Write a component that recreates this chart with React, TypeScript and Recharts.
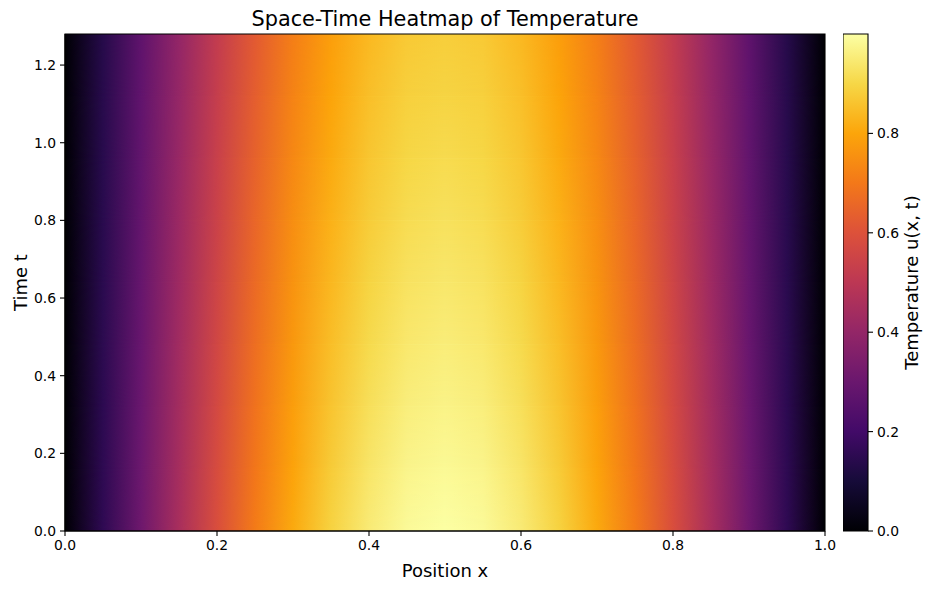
import React from 'react';
import { ComposedChart, XAxis, YAxis, ReferenceArea, Scatter } from 'recharts';

// ---- data ----
const positions = [0, 0.05, 0.1, 0.15, 0.2, 0.25, 0.3, 0.35, 0.4, 0.45, 0.5, 0.55, 0.6, 0.65, 0.7, 0.75, 0.8, 0.85, 0.9, 0.95, 1.0];
const times = [0, 0.16, 0.32, 0.48, 0.64, 0.8, 0.96, 1.12, 1.28];
// temperature u(x, t): one row per time, one column per position
const uGrid = [
  [0, 0.156, 0.309, 0.454, 0.588, 0.707, 0.809, 0.891, 0.951, 0.988, 1.0, 0.988, 0.951, 0.891, 0.809, 0.707, 0.588, 0.454, 0.309, 0.156, 0],
  [0, 0.154, 0.304, 0.447, 0.579, 0.696, 0.796, 0.877, 0.936, 0.973, 0.984, 0.973, 0.936, 0.877, 0.796, 0.696, 0.579, 0.447, 0.304, 0.154, 0],
  [0, 0.151, 0.299, 0.440, 0.570, 0.685, 0.784, 0.863, 0.921, 0.957, 0.969, 0.957, 0.921, 0.863, 0.784, 0.685, 0.570, 0.440, 0.299, 0.151, 0],
  [0, 0.149, 0.295, 0.433, 0.561, 0.674, 0.772, 0.850, 0.907, 0.942, 0.954, 0.942, 0.907, 0.850, 0.772, 0.674, 0.561, 0.433, 0.295, 0.149, 0],
  [0, 0.146, 0.290, 0.426, 0.552, 0.664, 0.759, 0.836, 0.893, 0.928, 0.939, 0.928, 0.893, 0.836, 0.759, 0.664, 0.552, 0.426, 0.290, 0.146, 0],
  [0, 0.144, 0.286, 0.420, 0.543, 0.653, 0.748, 0.823, 0.879, 0.913, 0.924, 0.913, 0.879, 0.823, 0.748, 0.653, 0.543, 0.420, 0.286, 0.144, 0],
  [0, 0.142, 0.281, 0.413, 0.535, 0.643, 0.736, 0.810, 0.865, 0.899, 0.910, 0.899, 0.865, 0.810, 0.736, 0.643, 0.535, 0.413, 0.281, 0.142, 0],
  [0, 0.140, 0.277, 0.406, 0.526, 0.633, 0.724, 0.798, 0.851, 0.885, 0.895, 0.885, 0.851, 0.798, 0.724, 0.633, 0.526, 0.406, 0.277, 0.140, 0],
  [0, 0.137, 0.272, 0.400, 0.518, 0.623, 0.713, 0.785, 0.838, 0.871, 0.881, 0.871, 0.838, 0.785, 0.713, 0.623, 0.518, 0.400, 0.272, 0.137, 0],
];
const xTicks = [0, 0.2, 0.4, 0.6, 0.8, 1.0];
const tTicks = [0, 0.2, 0.4, 0.6, 0.8, 1.0, 1.2];
const cbTicks = [0, 0.2, 0.4, 0.6, 0.8];
const X_DOMAIN: [number, number] = [0, 1];
const T_DOMAIN: [number, number] = [0, 1.28];
const U_DOMAIN: [number, number] = [0, 1.0];

// grid samples as points (used to give the axes their data extent)
const gridPoints = uGrid.flatMap((row, j) => row.map((u, i) => ({ x: positions[i], t: times[j], u })));

// ---- colour map (inferno anchors) ----
const INFERNO = ['#000004', '#160b39', '#420a68', '#6a176e', '#932667', '#bc3754', '#dd513a', '#f37819', '#fca50a', '#f6d746', '#fcffa4'];
const hexRgb = (h: string) => [1, 3, 5].map((i) => parseInt(h.slice(i, i + 2), 16));
function inferno(v: number): string {
  const t = Math.min(1, Math.max(0, (v - U_DOMAIN[0]) / (U_DOMAIN[1] - U_DOMAIN[0]))) * 10;
  const i = Math.min(9, Math.floor(t));
  const f = t - i;
  const a = hexRgb(INFERNO[i]);
  const b = hexRgb(INFERNO[i + 1]);
  const c = a.map((av, k) => Math.round(av + (b[k] - av) * f));
  return `rgb(${c[0]},${c[1]},${c[2]})`;
}

const FONT = '"DejaVu Sans", sans-serif';
const tickStyle = { fill: '#000', fontSize: 13.9, fontFamily: FONT };
const fmt = (v: number) => v.toFixed(1);
const Invisible = () => <g />;

function Defs() {
  return (
    <svg width={0} height={0} style={{ position: 'absolute' }}>
      <defs>
        {uGrid.map((row, j) => (
          <linearGradient key={j} id={`row${j}`} x1="0" y1="0" x2="1" y2="0">
            {row.map((v, i) => (
              <stop key={i} offset={(positions[i] - X_DOMAIN[0]) / (X_DOMAIN[1] - X_DOMAIN[0])} stopColor={inferno(v)} />
            ))}
          </linearGradient>
        ))}
        <linearGradient id="fadeGrad" x1="0" y1="1" x2="0" y2="0">
          <stop offset="0" stopColor="#000" />
          <stop offset="1" stopColor="#fff" />
        </linearGradient>
        <mask id="fadeUp" maskContentUnits="objectBoundingBox">
          <rect x="0" y="0" width="1" height="1" fill="url(#fadeGrad)" />
        </mask>
        <linearGradient id="cbGrad" x1="0" y1="1" x2="0" y2="0">
          {INFERNO.map((c, i) => (
            <stop key={i} offset={i / 10} stopColor={c} />
          ))}
        </linearGradient>
      </defs>
    </svg>
  );
}

function bands() {
  const out: React.ReactNode[] = [];
  for (let j = 0; j < times.length - 1; j++) {
    out.push(
      <ReferenceArea
        key={`b${j}`}
        x1={X_DOMAIN[0]}
        x2={X_DOMAIN[1]}
        y1={times[j]}
        y2={T_DOMAIN[1]}
        shape={(p: any) => <rect x={p.x} y={p.y} width={p.width} height={p.height} fill={`url(#row${j})`} />}
      />
    );
    out.push(
      <ReferenceArea
        key={`o${j}`}
        x1={X_DOMAIN[0]}
        x2={X_DOMAIN[1]}
        y1={times[j]}
        y2={times[j + 1]}
        shape={(p: any) => (
          <rect x={p.x} y={p.y} width={p.width} height={p.height} fill={`url(#row${j + 1})`} mask="url(#fadeUp)" />
        )}
      />
    );
  }
  return out;
}

export default function App() {
  return (
    <div style={{ position: 'absolute', left: 0, top: 0, width: 932, height: 590, background: '#fff', fontFamily: FONT }}>
      <Defs />
      <div
        style={{
          position: 'absolute',
          left: 65,
          width: 760,
          top: 7,
          textAlign: 'center',
          fontSize: 20.8,
          lineHeight: '24px',
          color: '#000',
          fontFamily: FONT,
        }}
      >
        Space-Time Heatmap of Temperature
      </div>
      <div style={{ position: 'absolute', left: 0, top: 0 }}>
        <ComposedChart width={932} height={590} margin={{ top: 34, right: 107, bottom: 0, left: 0 }}>
          <XAxis
            type="number"
            dataKey="x"
            domain={X_DOMAIN}
            ticks={xTicks}
            interval={0}
            height={59}
            tickFormatter={fmt}
            tick={tickStyle}
            tickSize={5}
            tickMargin={4}
            tickLine={{ stroke: '#000', strokeWidth: 1.1 }}
            axisLine={{ stroke: '#000', strokeWidth: 1.1 }}
            label={{ value: 'Position x', position: 'center', dy: 10, fill: '#000', fontSize: 18, fontFamily: FONT }}
          />
          <YAxis
            type="number"
            dataKey="t"
            domain={T_DOMAIN}
            ticks={tTicks}
            interval={0}
            width={65}
            tickFormatter={fmt}
            tick={tickStyle}
            tickSize={5}
            tickMargin={4}
            tickLine={{ stroke: '#000', strokeWidth: 1.1 }}
            axisLine={{ stroke: '#000', strokeWidth: 1.1 }}
            label={{ value: 'Time t', position: 'center', angle: -90, dx: -12, fill: '#000', fontSize: 18, fontFamily: FONT }}
          />
          <Scatter data={gridPoints} dataKey="t" shape={Invisible} isAnimationActive={false} legendType="none" />
          {bands()}
          <ReferenceArea x1={X_DOMAIN[0]} x2={X_DOMAIN[1]} y1={T_DOMAIN[0]} y2={T_DOMAIN[1]} fill="none" stroke="#000" strokeWidth={1.1} fillOpacity={0} />
        </ComposedChart>
      </div>
      <div style={{ position: 'absolute', left: 843, top: 0 }}>
        <ComposedChart width={89} height={590} margin={{ top: 34, right: 0, bottom: 59, left: 0 }}>
          <XAxis type="number" dataKey="x" domain={X_DOMAIN} hide />
          <YAxis
            type="number"
            dataKey="u"
            orientation="right"
            domain={U_DOMAIN}
            ticks={cbTicks}
            interval={0}
            width={64}
            tickFormatter={fmt}
            tick={tickStyle}
            tickSize={5}
            tickMargin={4}
            tickLine={{ stroke: '#000', strokeWidth: 1.1 }}
            axisLine={false}
            label={{ value: 'Temperature u(x, t)', position: 'center', angle: -90, dx: 12, fill: '#000', fontSize: 18, fontFamily: FONT }}
          />
          <Scatter data={gridPoints} dataKey="u" shape={Invisible} isAnimationActive={false} legendType="none" />
          <ReferenceArea x1={X_DOMAIN[0]} x2={X_DOMAIN[1]} y1={U_DOMAIN[0]} y2={U_DOMAIN[1]} fill="url(#cbGrad)" fillOpacity={1} stroke="#000" strokeWidth={1.1} />
        </ComposedChart>
      </div>
    </div>
  );
}
